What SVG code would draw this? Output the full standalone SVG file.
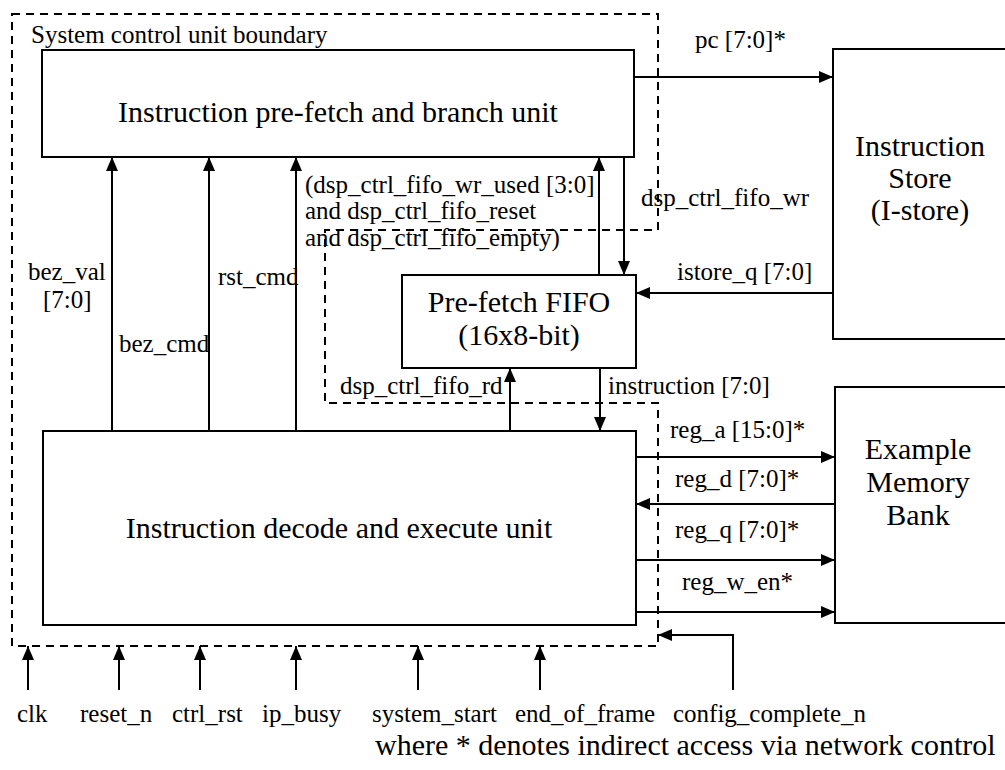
<svg xmlns="http://www.w3.org/2000/svg" width="1005" height="770" viewBox="0 0 1005 770">
<defs>
<marker id="ah" markerWidth="14" markerHeight="12" refX="14" refY="6" orient="auto" markerUnits="userSpaceOnUse"><path d="M0,0 L14,6 L0,12 z" fill="#000"/></marker>
<style>
.box{fill:#fff;stroke:#000;stroke-width:2}
.bnd{fill:none;stroke:#000;stroke-width:2;stroke-dasharray:8 6}
.c{fill:none;stroke:#000;stroke-width:2;marker-end:url(#ah)}
.t{font-family:"Liberation Serif","Times New Roman",serif;font-size:30px;fill:#000;text-anchor:middle}
.l{font-family:"Liberation Serif","Times New Roman",serif;font-size:25px;fill:#000}
</style>
</defs>
<rect width="1005" height="770" fill="#fff"/>
<g id="boundary">
<path class="bnd" d="M12,14 H658 V230 H325 V403 H658 V646 H12 Z"/>
<text class="l" x="31" y="43">System control unit boundary</text>
</g>
<g id="prefetch-unit">
<rect class="box" x="42" y="50" width="592" height="107"/>
<text class="t" x="338" y="122">Instruction pre-fetch and branch unit</text>
</g>
<g id="decode-unit">
<rect class="box" x="43" y="431" width="593" height="194"/>
<text class="t" x="339" y="538">Instruction decode and execute unit</text>
</g>
<g id="fifo">
<rect class="box" x="402" y="275" width="234" height="93"/>
<text class="t" x="519" y="312">Pre-fetch FIFO</text>
<text class="t" x="519" y="345">(16x8-bit)</text>
</g>
<g id="istore">
<rect class="box" x="833" y="49" width="200" height="290"/>
<text class="t" x="920" y="156">Instruction</text>
<text class="t" x="920" y="188">Store</text>
<text class="t" x="920" y="220">(I-store)</text>
</g>
<g id="memory">
<rect class="box" x="835" y="387" width="200" height="236"/>
<text class="t" x="918" y="459">Example</text>
<text class="t" x="918" y="492">Memory</text>
<text class="t" x="918" y="525">Bank</text>
</g>
<g id="connectors">
<path class="c" d="M112,431 V157"/>
<path class="c" d="M209,431 V157"/>
<path class="c" d="M296,431 V157"/>
<path class="c" d="M599,275 V157"/>
<path class="c" d="M624,157 V275"/>
<path class="c" d="M634,77 H833"/>
<path class="c" d="M833,293 H636"/>
<path class="c" d="M510,431 V368"/>
<path class="c" d="M600,368 V431"/>
<path class="c" d="M636,457 H835"/>
<path class="c" d="M835,504 H636"/>
<path class="c" d="M636,560 H835"/>
<path class="c" d="M636,612 H835"/>
<path class="c" d="M733,690 V635 H658"/>
<path class="c" d="M28,690 V646"/>
<path class="c" d="M119,690 V646"/>
<path class="c" d="M200,690 V646"/>
<path class="c" d="M296,690 V646"/>
<path class="c" d="M418,690 V646"/>
<path class="c" d="M540,690 V646"/>
</g>
<g id="labels">
<text class="l" x="695" y="48">pc [7:0]*</text>
<text class="l" x="641" y="206">dsp_ctrl_fifo_wr</text>
<text class="l" x="677" y="280">istore_q [7:0]</text>
<text class="l" x="305" y="193">(dsp_ctrl_fifo_wr_used [3:0]</text>
<text class="l" x="305" y="219">and dsp_ctrl_fifo_reset</text>
<text class="l" x="305" y="246">and dsp_ctrl_fifo_empty)</text>
<text class="l" x="28" y="280">bez_val</text>
<text class="l" x="43" y="308">[7:0]</text>
<text class="l" x="119" y="352">bez_cmd</text>
<text class="l" x="218" y="285">rst_cmd</text>
<text class="l" x="340" y="394">dsp_ctrl_fifo_rd</text>
<text class="l" x="608" y="394">instruction [7:0]</text>
<text class="l" x="670" y="438">reg_a [15:0]*</text>
<text class="l" x="675" y="487">reg_d [7:0]*</text>
<text class="l" x="675" y="538">reg_q [7:0]*</text>
<text class="l" x="682" y="590">reg_w_en*</text>
<text class="l" x="17" y="722">clk</text>
<text class="l" x="80" y="722">reset_n</text>
<text class="l" x="172" y="722">ctrl_rst</text>
<text class="l" x="262" y="722">ip_busy</text>
<text class="l" x="372" y="722">system_start</text>
<text class="l" x="515" y="722">end_of_frame</text>
<text class="l" x="673" y="722">config_complete_n</text>
<text class="l" x="375" y="755" style="font-size:30px">where * denotes indirect access via network control</text>
</g>
</svg>
